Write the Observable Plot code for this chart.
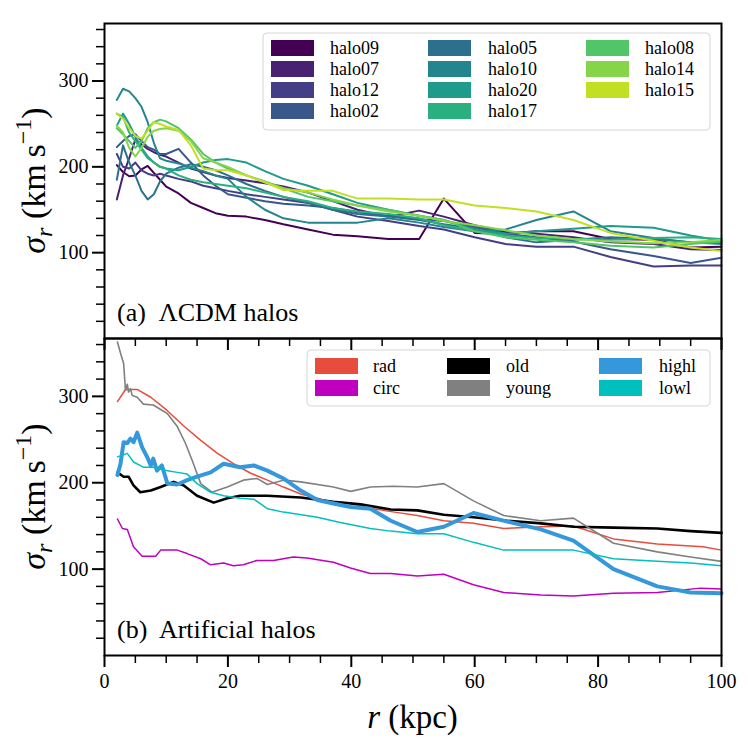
<!DOCTYPE html>
<html><head><meta charset="utf-8">
<script src="https://cdn.jsdelivr.net/npm/d3@7"></script>
<script src="https://cdn.jsdelivr.net/npm/@observablehq/plot@0.6"></script>
<style>
body{margin:0;background:#fff;}
#chart{position:relative;width:748px;height:743px;overflow:hidden;}
#chart svg{position:absolute;left:0;overflow:visible;background:transparent;}
#chart svg, #chart svg text, #chart svg tspan{font-family:"Liberation Serif","DejaVu Serif","Times New Roman",serif !important;}
</style></head><body><div id="chart"></div>
<script>
// ---------- Panel (a): ΛCDM halos ----------
const rTop = [2,3,4,5,6,7,8,9,10,12,14,16,18,20,23,26,29,33,37,41,46,51,55,60,65,70,76,82,89,95,100];
const halo09 = [202,194,189,190,197,201,193,185,177,169,158,152,146,143,142,138,133,127,121,119,116,116,163,123,122,125,125,116,115,106,107];
const halo07 = [162,190,210,232,226,221,217,214,212,205,198,194,190,187,184,181,177,170,160,150,142,149,142,132,124,122,118,112,110,104,103];
const halo12 = [215,200,198,205,196,192,190,192,190,186,183,178,175,172,168,165,162,158,150,142,137,131,127,118,110,107,107,95,84,85,85];
const halo02 = [223,230,236,238,230,223,220,215,215,221,205,190,178,168,164,160,157,155,152,147,143,139,137,130,122,118,113,104,96,88,94];
const halo05 = [185,225,205,190,172,162,168,183,192,199,203,200,196,190,180,172,165,158,150,145,142,138,133,128,118,112,115,118,116,112,112];
const halo10 = [278,291,288,280,270,252,228,210,207,204,199,195,190,186,165,150,140,135,135,135,140,135,130,125,127,138,148,125,117,112,110];
const halo20 = [248,262,250,235,222,212,205,200,198,196,200,205,208,209,205,195,186,178,168,158,150,143,138,127,122,125,128,131,129,120,114];
const halo17 = [262,258,240,230,220,210,205,200,198,190,185,182,180,178,175,170,165,160,152,148,145,140,132,125,120,117,116,115,117,118,116];
const halo08 = [245,238,230,222,230,245,252,255,253,245,232,215,205,198,190,183,175,165,160,155,150,143,138,125,118,115,112,108,106,110,113];
const halo14 = [248,240,222,212,222,235,242,244,245,242,230,210,205,200,190,182,175,170,162,155,148,143,137,132,126,120,116,113,111,112,115];
const halo15 = [262,256,245,236,233,242,252,250,247,243,225,198,196,196,190,182,173,172,172,163,163,162,162,155,152,148,138,123,114,106,102];
const haloNames = ["halo09","halo07","halo12","halo02","halo05","halo10","halo20","halo17","halo08","halo14","halo15"];
const haloValues = [halo09,halo07,halo12,halo02,halo05,halo10,halo20,halo17,halo08,halo14,halo15];

// ---------- Panel (b): artificial halos ----------
const radR = [2.1,3.4,5.3,7.5,10.1,12.8,15.6,18.3,20.9,23.7,26.4,29,31.8,34.5,37.1,39.9,43.6,47,50.7,55,59.8,64.7,70.7,76,82.5,89.6,97,100];
const radV = [294,308,308,299,284,266,249,234,222,211,203,195,187,182,177,176,170,166,162,156,153,147,149,150,135,129,126,122];
const circR = [2.1,2.9,3.7,4.7,6.1,8.3,9.1,11.8,13.4,15.6,17.2,19.3,20.9,22.5,24.7,27.4,30.6,32.8,37.1,40,43.1,46.4,50.7,55,59.8,64.7,70.7,76,82.5,89.6,96.6,100];
const circV = [158,147,146,126,115,115,122,122,118,112,105,107,104,105,110,110,114,113,108,101,95,95,92,94,82,73,70,69,72,73,78,77];
const oldR = [2.1,3.1,3.9,4.7,5.8,7.5,9.1,11.2,12.8,15,17.7,19.9,22,26.4,31.8,37.1,41.5,46.4,50.7,55,59.8,65.3,70.7,76,82.5,89.6,95,100];
const oldV = [212,207,207,197,189,191,195,201,197,185,177,182,185,185,183,178,175,169,168,163,160,156,153,149,148,147,144,142];
const youngR = [2.1,2.6,3.1,3.4,3.7,3.9,4.2,4.5,5.3,6.3,7.9,9.3,10.2,11.8,13.1,14.2,15.6,17.4,19.9,22.5,24.7,26.4,29,31.8,37.1,39.9,43.1,46.8,50.7,55,59.8,64.7,70.7,76,82.5,89.6,95,100];
const youngV = [363,350,338,307,314,305,309,301,299,291,290,284,280,265,246,226,199,189,195,203,205,198,203,201,195,190,195,196,195,199,179,162,156,159,130,120,114,109];
const highlR = [2.1,2.6,3.1,3.7,4.2,4.7,5.3,6.1,6.9,7.5,7.9,8.5,9.3,10.2,11.8,13.4,15,17.2,19.3,22,24.2,26.4,29,31.8,34.5,37.1,39.9,43.1,46.4,50.7,55,59.8,65.3,70.7,76,82.5,89.6,95,100];
const highlV = [209,222,247,246,251,247,258,241,230,220,228,214,220,199,198,203,207,212,222,218,220,214,205,191,180,176,172,170,156,143,149,165,155,146,133,100,80,73,72];
const lowlR = [2.1,2.9,3.7,4.7,6.3,7.9,10.2,11.8,13.4,15,17.2,19.3,22,24.2,26.4,29,34.5,38.2,43.1,46.4,50.7,55,59.8,64.7,70.7,76,82.5,89.6,95,100];
const lowlV = [230,232,234,224,218,218,214,212,210,199,189,185,182,181,170,166,160,154,147,144,141,141,131,122,122,122,112,109,107,104];
const artNames = ["rad","circ","old","young","highl","lowl"];
const artR = [radR,circR,oldR,youngR,highlR,lowlR];
const artV = [radV,circV,oldV,youngV,highlV,lowlV];

// ---------- axis ticks ----------
const xMajor = [0,20,40,60,80,100];
const yMajor = [100,200,300];

// ---------- styling ----------
const haloColors = haloNames.map((d,i) => d3.interpolateViridis(i/11));
const artColors = ["#e74c3c","#bf00bf","#000000","#808080","#3498db","#00bfbf"];
const artWidths = [1.5,1.5,2.6,1.6,4,1.5];
const xMinor = d3.range(5,100,5).filter(v => v % 20 !== 0);
const yMinor = d3.range(20,367,20).filter(v => v % 100 !== 0);
const ML = 104, MR = 27, TOPY = 23, SPLIT = 338, BOTY = 655;

function axes(showXLabels){
  return [
    Plot.axisY({ticks: yMajor, tickSize: 12, strokeWidth: 2, tickPadding: 4, label: null, fontSize: 20}),
    Plot.axisY({ticks: yMinor, tickSize: 8, strokeWidth: 1.5, tickFormat: () => "", label: null}),
    Plot.axisX({ticks: xMajor, tickSize: 12, strokeWidth: 2, tickPadding: 6, label: null, fontSize: 20,
      tickFormat: showXLabels ? (d => String(d)) : (() => "")}),
    Plot.axisX({ticks: xMinor, tickSize: 8, strokeWidth: 1.5, tickFormat: () => "", label: null}),
    Plot.frame({stroke: "black", strokeWidth: 2})
  ];
}

const topPlot = Plot.plot({
  width: 748, height: SPLIT + 14,
  marginLeft: ML, marginRight: MR, marginTop: TOPY, marginBottom: 14,
  x: {domain: [0,100], label: null},
  y: {domain: [0,367], label: null},
  style: {fontSize: "20px", color: "black", background: "transparent"},
  marks: [
    ...haloNames.map((name,i) => Plot.line(rTop.map((r,j) => ({r, v: haloValues[i][j]})),
      {x: "r", y: "v", stroke: haloColors[i], strokeWidth: 2})),
    ...axes(false)
  ]
});

const botPlot = Plot.plot({
  width: 748, height: 743 - SPLIT,
  marginLeft: ML, marginRight: MR, marginTop: 0, marginBottom: 743 - BOTY,
  x: {domain: [0,100], label: null},
  y: {domain: [0,367], label: null},
  style: {fontSize: "20px", color: "black", background: "transparent"},
  marks: [
    ...artNames.map((name,i) => Plot.line(artR[i].map((r,j) => ({r, v: artV[i][j]})),
      {x: "r", y: "v", stroke: artColors[i], strokeWidth: artWidths[i]})),
    ...axes(true)
  ]
});

const chart = document.getElementById("chart");
botPlot.style.top = SPLIT + "px"; botPlot.style.zIndex = 1;
topPlot.style.top = "0px"; topPlot.style.zIndex = 2;
chart.appendChild(botPlot);
chart.appendChild(topPlot);

function legend(svg, names, colors, nrows, box, patchX, labelX, rowY){
  const g = d3.select(svg).append("g").attr("font-size", 18).attr("text-anchor", "start");
  g.append("rect").attr("x", box[0]).attr("y", box[1]).attr("width", box[2]-box[0]).attr("height", box[3]-box[1])
    .attr("rx", 4).attr("fill", "white").attr("fill-opacity", 0.85).attr("stroke", "#d6d6d6").attr("stroke-width", 1);
  names.forEach((n,i) => {
    const c = Math.floor(i / nrows), r = i % nrows;
    g.append("rect").attr("x", patchX[c]).attr("y", rowY[r]-8).attr("width", 43).attr("height", 16).attr("fill", colors[i]);
    g.append("text").attr("x", labelX[c]).attr("y", rowY[r]).attr("dy", "0.35em").attr("text-anchor", "start")
      .attr("fill", "black").text(n);
  });
}
legend(topPlot, haloNames, haloColors, 4, [263,33,710,130], [271,428,586], [330,488,645], [48,69,90,111]);
legend(botPlot, artNames, artColors, 2, [307,12,710,68], [315,447,599], [373,506,659], [28,50]);

function panelLabel(svg, y, txt){
  d3.select(svg).append("text").attr("x", 117).attr("y", y).attr("font-size", 26).attr("text-anchor", "start")
    .attr("fill", "black").style("white-space", "pre").text(txt);
}
panelLabel(topPlot, 321, "(a)  \u039BCDM halos");
panelLabel(botPlot, 300, "(b)  Artificial halos");

function yLabel(svg, cy){
  const t = d3.select(svg).append("text")
    .attr("transform", `translate(45,${cy}) rotate(-90)`)
    .attr("text-anchor", "middle").attr("font-size", 34).attr("fill", "black").style("white-space", "pre");
  t.append("tspan").attr("font-style", "italic").text("\u03C3");
  t.append("tspan").attr("font-style", "italic").attr("font-size", 24).attr("dy", 7).text("r");
  t.append("tspan").attr("dy", -7).text(" (km\u2009s");
  t.append("tspan").attr("font-size", 24).attr("dy", -14).text("\u22121");
  t.append("tspan").attr("dy", 14).text(")");
}
yLabel(topPlot, (TOPY + SPLIT) / 2);
yLabel(botPlot, (BOTY - SPLIT) / 2);

d3.select(botPlot).append("text").attr("x", (ML + 748 - MR) / 2).attr("y", 728 - SPLIT)
  .attr("text-anchor", "middle").attr("font-size", 33).attr("fill", "black").style("white-space", "pre")
  .call(t => { t.append("tspan").attr("font-style", "italic").text("r"); t.append("tspan").text(" (kpc)"); });
</script></body></html>
